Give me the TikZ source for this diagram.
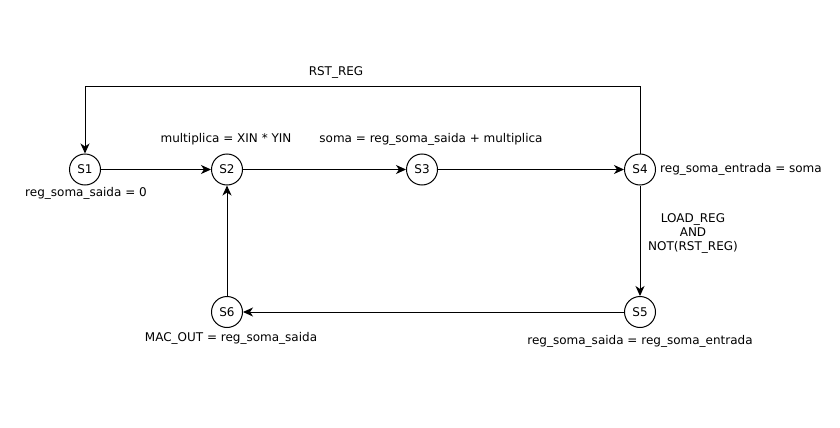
\documentclass[tikz,border=0pt]{standalone}
\usepackage{fontspec}
\setmainfont{DejaVu Sans}
\usetikzlibrary{arrows.meta}
\begin{document}
\begin{tikzpicture}[x=1pt,y=-1pt,
  state/.style={circle,draw,line width=1pt,minimum size=31pt,inner sep=0pt,font=\fontsize{12}{14}\selectfont},
  lbl/.style={font=\fontsize{12}{14}\selectfont,inner sep=0pt},
  conn/.style={draw,line width=1pt,-{Stealth[length=10pt,width=9pt,inset=3pt]}}]
\useasboundingbox (0,0) rectangle (840,428);
\node[state] (s1) at (85,169.5) {S1};
\node[state] (s2) at (227,169.5) {S2};
\node[state] (s3) at (422,169.5) {S3};
\node[state] (s4) at (640,169.5) {S4};
\node[state] (s5) at (640,312) {S5};
\node[state] (s6) at (227,312) {S6};
\coordinate (c1) at (640,86);
\coordinate (c2) at (85,86);
\draw[conn] (s1) -- (s2);
\draw[conn] (s2) -- (s3);
\draw[conn] (s3) -- (s4);
\draw[conn] (s4) -- (s5);
\draw[conn] (s5) -- (s6);
\draw[conn] (s6) -- (s2);
\draw[conn] (s4) -- (c1) -- (c2) -- (s1);
\node[lbl] (t1) at (336,72) {RST\_REG};
\node[lbl] (t2) at (226,139) {multiplica = XIN * YIN};
\node[lbl] (t3) at (431,139) {soma = reg\_soma\_saida + multiplica};
\node[lbl] (t4) at (86,193) {reg\_soma\_saida = 0};
\node[lbl,anchor=west] (t5) at (660,169) {reg\_soma\_entrada = soma};
\node[lbl,align=center] (t6) at (693,233) {LOAD\_REG\\AND\\NOT(RST\_REG)};
\node[lbl] (t7) at (640,341) {reg\_soma\_saida = reg\_soma\_entrada};
\node[lbl] (t8) at (231,338) {MAC\_OUT = reg\_soma\_saida};
\end{tikzpicture}
\end{document}
